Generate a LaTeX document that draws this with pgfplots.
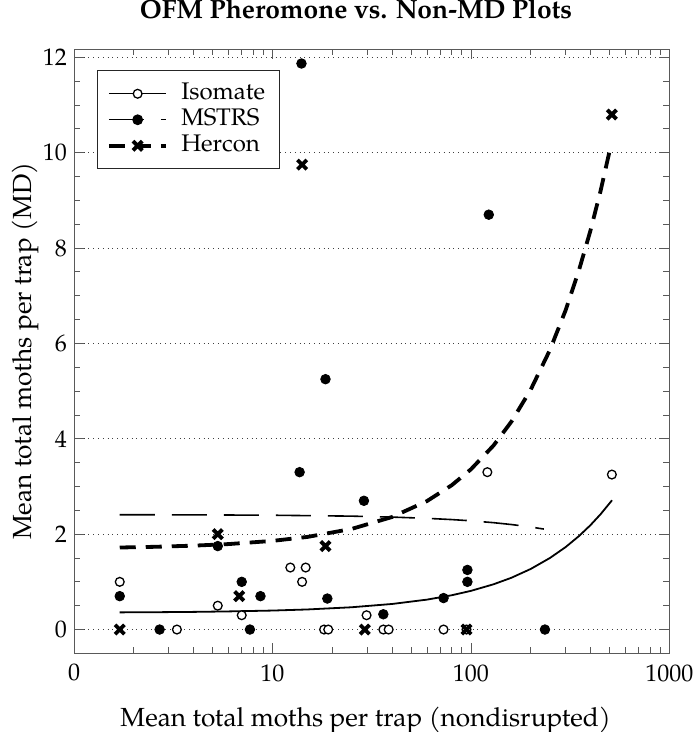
\documentclass[border=0pt]{standalone}
\usepackage{fontspec}
\setmainfont{texgyrepagella}[Extension=.otf, UprightFont=*-regular, BoldFont=*-bold, ItalicFont=*-italic, BoldItalicFont=*-bolditalic]
\usepackage{pgfplots}
\pgfplotsset{compat=1.18}

\pgfplotstableread{
x y
1.7 1.0
3.3 0
5.3 0.5
7.0 0.3
12.3 1.3
14.7 1.3
14.1 1.0
18.2 0
19.1 0
29.8 0.3
36.2 0
38.5 0
72.8 0
95 0
121 3.3
513 3.25
}\isomate

\pgfplotstableread{
x y
1.7 0.7
2.7 0
5.3 1.75
7.0 1.0
7.7 0
8.7 0.7
14.0 11.87
13.7 3.3
18.5 5.25
18.9 0.65
28.9 2.7
36.2 0.32
72.8 0.66
96 1.25
96 1.0
123 8.7
236 0
}\mstrs

\pgfplotstableread{
x y
1.7 0
5.3 2.0
6.8 0.7
14.1 9.75
18.5 1.75
29.2 0
95 0
513 10.8
}\hercon

\begin{document}
\begin{tikzpicture}
\begin{axis}[
  scale only axis, width=297.6pt, height=302pt,
  xmode=log, xmin=1, xmax=1000,
  ymin=-0.5, ymax=12.17,
  xtick={1,10,100,1000}, xticklabels={0,10,100,1000},
  ytick={0,2,...,12},
  minor y tick num=3,
  ymajorgrids, major grid style={dotted, black!75},
  axis line style={black!65},
  every tick/.style={black!65},
  major tick length=5pt, minor tick length=3pt,
  /pgf/number format/assume math mode=true,
  tick label style={font=\fontsize{12}{14}\selectfont},
  xticklabel style={yshift=-2pt},
  label style={font=\fontsize{13.1}{15}\selectfont},
  xlabel={Mean total moths per trap (nondisrupted)},
  xlabel style={at={(axis description cs:0.5,-0.1209)}, anchor=base, xshift=-3pt},
  ylabel={Mean total moths per trap (MD)},
  ylabel style={at={(axis description cs:-0.0722,0.5)}, anchor=base},
  title={OFM Pheromone vs. Non-MD Plots},
  title style={font=\fontsize{13.2}{15}\selectfont\bfseries,
    at={(axis description cs:0.5,1.0308)}, anchor=base, xshift=-7.8pt},
  legend style={at={(0.038,0.965)}, anchor=north west, draw=black!85,
    row sep=0pt, column sep=4.5pt, inner xsep=5pt, inner ysep=5pt,
    nodes={font=\fontsize{12}{14}\selectfont, text height=8.5pt,
      text depth=2.5pt, inner ysep=1pt, inner xsep=2pt}},
  legend cell align=left,
  legend image code/.code={\draw[mark repeat=2,mark phase=2] plot coordinates {(0pt,0pt) (14.35pt,0pt) (28.7pt,0pt)};},
]
% fitted lines
\addplot[forget plot, black, line width=0.9pt] coordinates {
  (1.7,0.360) (2.5,0.363) (4,0.370) (6,0.380) (10,0.398) (15,0.421)
  (25,0.467) (40,0.536) (60,0.627) (80,0.719) (100,0.811) (130,0.949)
  (160,1.086) (200,1.270) (250,1.500) (300,1.729) (350,1.959) (400,2.188)
  (450,2.418) (514,2.711)};
\addplot[forget plot, black, line width=0.8pt, dash pattern=on 17.5pt off 8.5pt] coordinates {
  (1.7,2.408) (4,2.405) (10,2.397) (25,2.378) (40,2.358) (60,2.332)
  (80,2.306) (100,2.280) (130,2.241) (160,2.202) (200,2.150) (233,2.107)};
\addplot[forget plot, black, line width=1.9pt, dash pattern=on 8pt off 5pt] coordinates {
  (1.7,1.720) (2.5,1.734) (4,1.759) (6,1.792) (10,1.859) (15,1.942)
  (25,2.109) (40,2.359) (60,2.693) (80,3.026) (100,3.360) (130,3.860)
  (160,4.361) (200,5.028) (250,5.862) (300,6.696) (350,7.530) (400,8.364)
  (450,9.198) (509,10.182)};
% points
\addplot[forget plot, only marks, mark=*, mark size=2.4pt, black] table {\mstrs};
\addplot[forget plot, only marks, mark=*, mark size=2.2pt, draw=black, fill=white, line width=0.65pt] table {\isomate};
\addplot[forget plot, only marks, mark=x, mark size=3.3pt, line width=1.9pt, black] table {\hercon};
% legend
\addlegendimage{black, line width=0.6pt, mark=*, mark size=2.2pt, mark options={solid, fill=white, line width=0.65pt}}
\addlegendentry{Isomate}
\addlegendimage{black, line width=0.6pt, dash pattern=on 17.5pt off 8.5pt, mark=*, mark size=2.4pt, mark options={solid}}
\addlegendentry{MSTRS}
\addlegendimage{black, line width=1.9pt, dash pattern=on 8pt off 5pt, mark=x, mark size=3.3pt, mark options={solid, line width=1.9pt}}
\addlegendentry{Hercon}
\end{axis}
\pgfresetboundingbox
\path ([xshift=-37pt,yshift=-39.3pt]current axis.south west) rectangle ([xshift=13.4pt,yshift=24.6pt]current axis.north east);
\end{tikzpicture}
\end{document}
